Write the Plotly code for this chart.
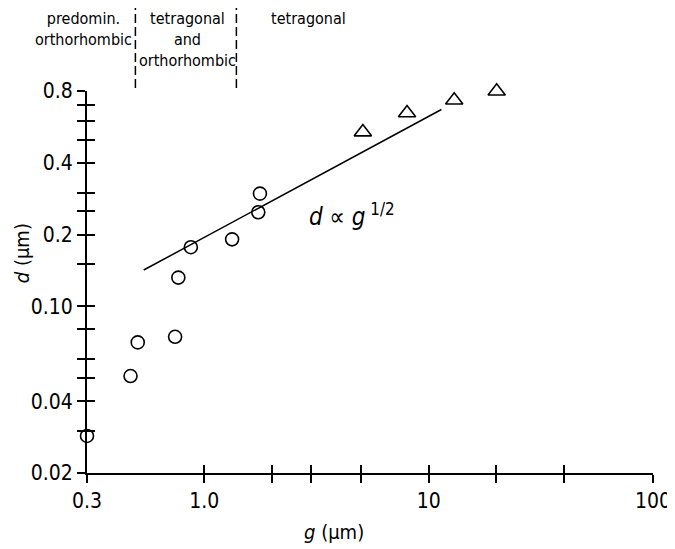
import plotly.graph_objects as go
import math

# Data
circle_g = [0.30, 0.469, 0.505, 0.741, 0.766, 0.871, 1.33, 1.74, 1.77]
circle_d = [0.0286, 0.051, 0.0706, 0.0745, 0.132, 0.177, 0.191, 0.248, 0.297]
tri_g = [5.09, 8.01, 13.0, 20.1]
tri_d = [0.538, 0.647, 0.732, 0.798]
line_g = [0.537, 11.4]
line_d = [0.142, 0.669]
boundary_g = [0.493, 1.39]

x_tickvals = [0.3, 1.0, 2, 3, 5, 10, 20, 40, 100]
x_ticktext = ["0.3", "1.0", "", "", "", "10", "", "", "100"]
y_tickvals = [0.02, 0.03, 0.04, 0.05, 0.06, 0.08, 0.10, 0.15, 0.2, 0.25, 0.3, 0.4, 0.5, 0.6, 0.7, 0.8]
y_ticktext = ["0.02", "", "0.04", "", "", "", "0.10", "", "0.2", "", "", "0.4", "", "", "", "0.8"]

FONT = "DejaVu Sans Condensed, Liberation Sans Narrow, sans-serif"

fig = go.Figure()
fig.add_trace(go.Scatter(x=line_g, y=line_d, mode="lines",
                         line=dict(color="black", width=1.5), showlegend=False))
fig.add_trace(go.Scatter(x=circle_g, y=circle_d, mode="markers",
                         marker=dict(symbol="circle-open", size=13, color="black",
                                     line=dict(width=1.6, color="black")),
                         showlegend=False, cliponaxis=False))
fig.add_trace(go.Scatter(x=tri_g, y=tri_d, mode="markers",
                         marker=dict(symbol="triangle-up-open", size=15, color="black",
                                     line=dict(width=1.6, color="black")),
                         showlegend=False, cliponaxis=False))

xr = [math.log10(0.3), math.log10(100)]
yr = [math.log10(0.02), math.log10(0.8)]

common = dict(showgrid=False, zeroline=False, tickcolor="black", ticklen=8, tickwidth=1.5)
fig.update_layout(
    width=675, height=541,
    margin=dict(l=79, r=24, t=83, b=76),
    paper_bgcolor="white", plot_bgcolor="white",
    font=dict(family=FONT, color="black", size=20),
    xaxis=dict(type="log", range=xr, tickmode="array", tickvals=x_tickvals, ticktext=x_ticktext,
               ticks="outside", showline=True, linecolor="black", linewidth=2,
               tickfont=dict(size=21), **common),
    yaxis=dict(type="log", range=yr, tickmode="array", tickvals=y_tickvals, ticktext=y_ticktext,
               ticks="outside", showline=True, linecolor="black", linewidth=2,
               tickfont=dict(size=21), **common),
    xaxis2=dict(type="log", range=xr, overlaying="x", tickmode="array", tickvals=x_tickvals,
                ticks="inside", showticklabels=False, showline=False, **common),
    yaxis2=dict(type="log", range=yr, overlaying="y", tickmode="array", tickvals=y_tickvals,
                ticks="inside", showticklabels=False, showline=False, **common),
)
# dummy trace to activate overlay axes
fig.add_trace(go.Scatter(x=[None], y=[None], xaxis="x2", yaxis="y2", showlegend=False))

for g in boundary_g:
    fig.add_shape(type="line", xref="x", yref="paper", x0=g, x1=g, y0=1.008, y1=1.225,
                  line=dict(color="black", width=1.5, dash="9px,4px"))

ann = []
ann.append(dict(text="predomin.<br>orthorhombic", x=-0.007, y=1.22, xref="paper", yref="paper",
                xanchor="center", yanchor="top", showarrow=False, font=dict(size=16)))
ann.append(dict(text="tetragonal<br>and<br>orthorhombic", x=0.178, y=1.22, xref="paper", yref="paper",
                xanchor="center", yanchor="top", showarrow=False, font=dict(size=16)))
ann.append(dict(text="tetragonal", x=0.392, y=1.22, xref="paper", yref="paper",
                xanchor="center", yanchor="top", showarrow=False, font=dict(size=16)))
ann.append(dict(text="<i>d</i> ∝ <i>g</i><sup> 1/2</sup>", x=0.4685, y=0.675, xref="paper", yref="paper",
                xanchor="center", yanchor="middle", showarrow=False, font=dict(size=24)))
ann.append(dict(text="<i>d</i> (µm)", x=-0.115, y=0.575, xref="paper", yref="paper",
                xanchor="center", yanchor="middle", textangle=-90, showarrow=False, font=dict(size=20)))
ann.append(dict(text="<i>g</i> (µm)", x=0.437, y=-0.155, xref="paper", yref="paper",
                xanchor="center", yanchor="middle", showarrow=False, font=dict(size=20)))
fig.update_layout(annotations=ann)

fig.write_html("out.html")
